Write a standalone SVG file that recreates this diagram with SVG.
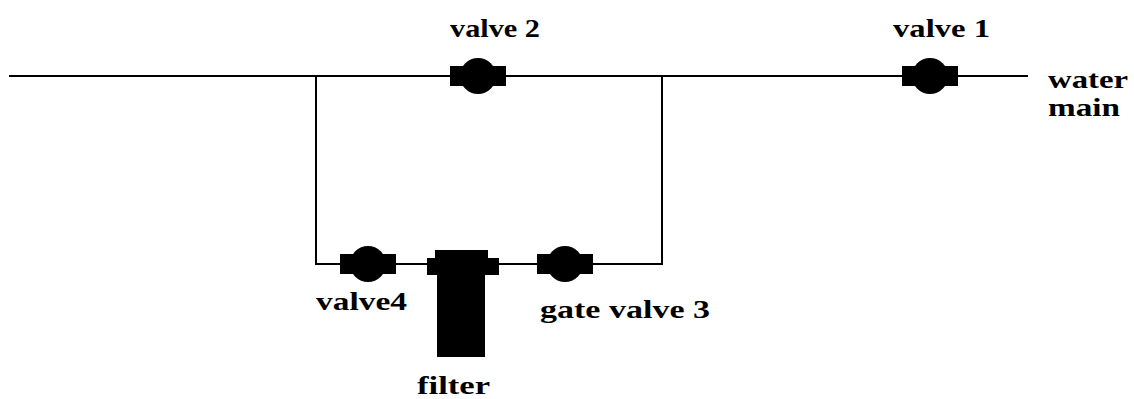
<svg xmlns="http://www.w3.org/2000/svg" width="1134" height="399" viewBox="0 0 1134 399">
<style>
.pipe{stroke:#000;stroke-width:2;fill:none}
</style>
<defs>
<g id="valve">
<rect x="-28" y="-10" width="56" height="20" fill="#000"/>
<circle cx="0" cy="0" r="18" fill="#000"/>
</g>
</defs>
<rect width="1134" height="399" fill="#fff"/>
<g id="connectors">
<line class="pipe" x1="9" y1="76" x2="1028" y2="76"/>
<polyline class="pipe" points="316,76 316,264 662,264 662,76"/>
</g>
<g font-family="Liberation Serif, DejaVu Serif, serif" font-weight="bold" font-size="26" fill="#000">
<g id="valve2"><use href="#valve" x="478" y="76"/><text x="450" y="37" textLength="90" lengthAdjust="spacingAndGlyphs">valve 2</text></g>
<g id="valve1"><use href="#valve" x="930" y="76"/><text x="893" y="37" textLength="97" lengthAdjust="spacingAndGlyphs">valve  1</text></g>
<g id="water-main"><text x="1048" y="88" textLength="80" lengthAdjust="spacingAndGlyphs">water</text><text x="1048" y="116" textLength="72" lengthAdjust="spacingAndGlyphs">main</text></g>
<g id="valve4"><use href="#valve" x="368" y="264"/><text x="316" y="310" textLength="91" lengthAdjust="spacingAndGlyphs">valve4</text></g>
<g id="gatevalve3"><use href="#valve" x="565" y="264"/><text x="540" y="318" textLength="170" lengthAdjust="spacingAndGlyphs">gate valve 3</text></g>
<g id="filter"><path d="M435,250 H488 V258 H499 V275 H485 V357 H437 V275 H427 V258 H435 Z" fill="#000"/><text x="417" y="394" textLength="73" lengthAdjust="spacingAndGlyphs">filter</text></g>
</g>
</svg>
